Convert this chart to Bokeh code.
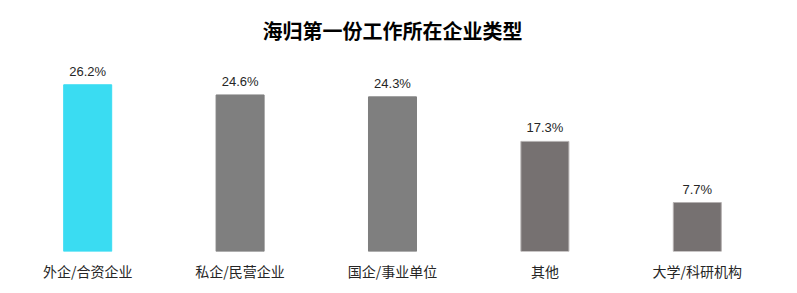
from bokeh.plotting import figure
from bokeh.models import ColumnDataSource, FactorRange, Range1d
from bokeh.core.properties import value
from bokeh.embed import file_html
from bokeh.resources import INLINE

categories = ["外企/合资企业", "私企/民营企业", "国企/事业单位", "其他", "大学/科研机构"]
values = [26.2, 24.6, 24.3, 17.3, 7.7]
labels = ["26.2%", "24.6%", "24.3%", "17.3%", "7.7%"]
colors = ["#3ADCF2", "#7F7F7F", "#7F7F7F", "#767171", "#767171"]
outlines = ["#3ADCF2", "#7F7F7F", "#7F7F7F", "#B4B0B0", "#B4B0B0"]

source = ColumnDataSource(dict(cat=categories, val=values, lab=labels,
                               color=colors, outline=outlines))

p = figure(width=797, height=293, output_backend="svg", toolbar_location=None,
           x_range=FactorRange(*categories, range_padding=0),
           y_range=Range1d(0, 31.9),
           min_border_left=11, min_border_right=24, min_border_top=48, min_border_bottom=42)

p.title.text = "海归第一份工作所在企业类型"
p.title.align = "center"
p.title.text_font = "Noto Sans CJK SC"
p.title.text_font_size = "20px"
p.title.text_font_style = "bold"
p.title.text_color = "#000000"
p.title.standoff = 8

p.vbar(x="cat", top="val", width=0.315, source=source,
       fill_color="color", line_color="outline", line_width=1)

p.text(x="cat", y="val", text="lab", source=source, text_align="center",
       text_baseline="bottom", y_offset=-6, text_font=value("Liberation Sans"),
       text_font_size="13px", text_color="#262626")

p.yaxis.visible = False
p.xaxis.axis_line_color = None
p.xaxis.major_tick_line_color = None
p.xaxis.minor_tick_line_color = None
p.xaxis.major_tick_out = 0
p.xaxis.major_tick_in = 0
p.xaxis.major_label_standoff = 9
p.xaxis.major_label_text_font = "Noto Sans CJK SC"
p.xaxis.major_label_text_font_size = "14px"
p.xaxis.major_label_text_color = "#262626"
p.xgrid.visible = False
p.ygrid.visible = False
p.outline_line_color = None

open("out.html", "w").write(file_html(p, INLINE))
